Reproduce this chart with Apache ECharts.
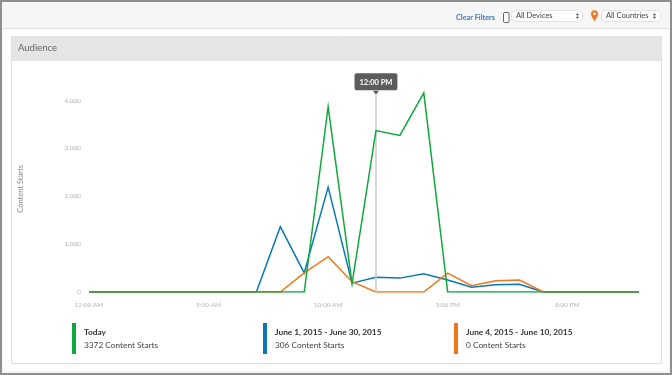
<!DOCTYPE html>
<html><head><meta charset="utf-8">
<style>html,body{margin:0;padding:0;background:#fff}#c{width:672px;height:375px}</style>
<script src="https://cdn.jsdelivr.net/npm/echarts@6/dist/echarts.min.js"></script></head>
<body><div id="c"></div>
<script>
const hours = ['12:00 AM','1:00 AM','2:00 AM','3:00 AM','4:00 AM','5:00 AM','6:00 AM','7:00 AM','8:00 AM','9:00 AM','10:00 AM','11:00 AM','12:00 PM','1:00 PM','2:00 PM','3:00 PM','4:00 PM','5:00 PM','6:00 PM','7:00 PM','8:00 PM','9:00 PM','10:00 PM','11:00 PM'];
const today = [0,0,0,0,0,0,0,0,0,0,3870,170,3372,3270,4160,0,0,0,0,0,0,0,0,0];
const june = [0,0,0,0,0,0,0,0,1365,400,2190,185,306,290,380,250,100,150,160,0,0,0,0,0];
const juneWeek = [0,0,0,0,0,0,0,0,0,400,737,215,0,0,0,395,130,235,250,0,0,0,0,0];
const yTicks = [0,1000,2000,3000,4000];
const legendTitles = ['Today','June 1, 2015 - June 30, 2015','June 4, 2015 - June 10, 2015'];
const legendTexts = ['3372 Content Starts','306 Content Starts','0 Content Starts'];
const legendColors = ['#0fa83c','#0a77b8','#f5761a'];
const legendX = [72,263,454];
const FONT = 'Lato, "Open Sans", sans-serif';
const selected = '12:00 PM';

const chrome = [
 {type:'rect',z:0,shape:{x:1,y:1,width:670,height:373},style:{fill:'#f6f6f6',stroke:'#8f8f8f',lineWidth:2}},
 {type:'line',z:0,shape:{x1:3,y1:28.5,x2:669,y2:28.5},style:{stroke:'#e2e2e2',lineWidth:1}},
 {type:'rect',z:0,shape:{x:3,y:29,width:666,height:342},style:{fill:'#fff'}},
 {type:'rect',z:0,shape:{x:11.5,y:36.5,width:650,height:327},style:{fill:'#fff',stroke:'#e0e0e0',lineWidth:1}},
 {type:'rect',z:0,shape:{x:12,y:37,width:649,height:24},style:{fill:'#e5e5e5'}},
 {type:'text',z:1,style:{x:18,y:48,text:'Audience',fill:'#666',font:'9.5px '+FONT,verticalAlign:'middle'}},
 {type:'text',z:1,style:{x:456,y:17.5,text:'Clear Filters',fill:'#3f78b5',font:'bold 7.3px '+FONT,verticalAlign:'middle'}},
 {type:'rect',z:1,shape:{x:503.5,y:12.5,width:5.5,height:10,r:1},style:{fill:'#fff',stroke:'#666',lineWidth:1}},
 {type:'rect',z:1,shape:{x:511.5,y:10.5,width:71,height:11,r:4},style:{fill:'#fff',stroke:'#e2e2e2',lineWidth:1}},
 {type:'text',z:1,style:{x:516,y:16,text:'All Devices',fill:'#444',font:'7.5px '+FONT,verticalAlign:'middle'}},
 {type:'polygon',z:1,shape:{points:[[576,15.3],[579,15.3],[577.5,13.2]]},style:{fill:'#333'}},
 {type:'polygon',z:1,shape:{points:[[576,16.7],[579,16.7],[577.5,18.8]]},style:{fill:'#333'}},
 {type:'polygon',z:1,shape:{points:[[591.2,15.5],[597.8,15.5],[594.5,21.5]]},style:{fill:'#f5761a'}},
 {type:'circle',z:1,shape:{cx:594.5,cy:13.8,r:3.5},style:{fill:'#f5761a'}},
 {type:'circle',z:2,shape:{cx:594.5,cy:13.8,r:1.4},style:{fill:'#fff'}},
 {type:'rect',z:1,shape:{x:601.5,y:10.5,width:59,height:11,r:4},style:{fill:'#fff',stroke:'#e2e2e2',lineWidth:1}},
 {type:'text',z:1,style:{x:606,y:16,text:'All Countries',fill:'#444',font:'7.5px '+FONT,verticalAlign:'middle'}},
 {type:'polygon',z:1,shape:{points:[[653,15.3],[656,15.3],[654.5,13.2]]},style:{fill:'#333'}},
 {type:'polygon',z:1,shape:{points:[[653,16.7],[656,16.7],[654.5,18.8]]},style:{fill:'#333'}}
];
const legendEls = [];
legendTitles.forEach((t,i)=>{
 legendEls.push({type:'rect',z:1,shape:{x:legendX[i],y:323,width:4,height:31},style:{fill:legendColors[i]}});
 legendEls.push({type:'text',z:1,style:{x:legendX[i]+12,y:332,text:t,fill:'#333',font:'bold 8.3px '+FONT,verticalAlign:'middle'}});
 legendEls.push({type:'text',z:1,style:{x:legendX[i]+12,y:345,text:legendTexts[i],fill:'#444',font:'8.3px '+FONT,verticalAlign:'middle'}});
});

function line(name,data,color,z,extra){
 return Object.assign({name,type:'line',data,z,symbol:'none',silent:true,animation:false,
   lineStyle:{color,width:1.5,join:'miter'},itemStyle:{color}},extra||{});
}
const chart = echarts.init(document.getElementById('c'),null,{renderer:'canvas'});
chart.setOption({
 animation:false,
 textStyle:{fontFamily:FONT},
 graphic:{elements:chrome.concat(legendEls)},
 grid:{left:89,right:33,top:90.9,height:201.1,containLabel:false},
 xAxis:{type:'category',boundaryGap:false,data:hours,
   axisLine:{show:false},axisTick:{show:false},splitLine:{show:false},
   axisLabel:{interval:4,color:'#b4b4b4',fontSize:6.5,margin:9,fontFamily:FONT}},
 yAxis:{type:'value',min:0,max:4200,interval:1000,
   name:'Content Starts',nameLocation:'middle',nameGap:64,nameRotate:90,
   nameTextStyle:{color:'#888',fontSize:7.5,fontFamily:FONT,padding:[0,0,0,5]},
   axisLine:{show:false},axisTick:{show:false},splitLine:{show:false},
   axisLabel:{color:'#b4b4b4',fontSize:6.5,margin:8,fontFamily:FONT,
     formatter:v=>yTicks.includes(v)?v.toLocaleString('en-US'):''}},
 series:[
  line(legendTitles[1],june,legendColors[1],3,{
    markLine:{silent:true,symbol:'none',animation:false,
      lineStyle:{color:'#c8c8c8',width:1.5,type:'solid'},
      label:{show:true,position:'end',formatter:selected,distance:5,color:'#fff',fontSize:7.5,fontWeight:'bold',
        fontFamily:FONT,backgroundColor:'#5c5c5c',borderRadius:2,padding:[5,5,4,5]},
      data:[[{xAxis:selected,yAxis:0},{xAxis:selected,yAxis:4110}]]},
    markPoint:{silent:true,animation:false,symbol:'triangle',symbolRotate:180,symbolSize:[6,4],
      itemStyle:{color:'#5c5c5c'},label:{show:false},
      data:[{xAxis:selected,yAxis:4160}]}
  }),
  line(legendTitles[2],juneWeek,legendColors[2],4),
  line(legendTitles[0],today,legendColors[0],5)
 ]
});
</script></body></html>
